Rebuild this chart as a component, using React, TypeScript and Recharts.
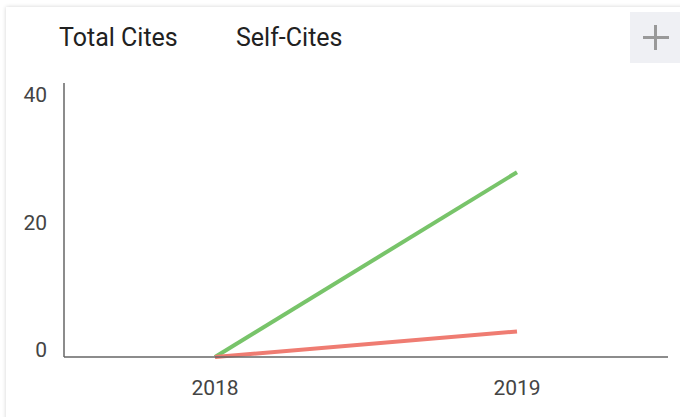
import { Line, LineChart, XAxis, YAxis } from 'recharts'

const years = ['2018', '2019']
const totalCites = [0, 29]
const selfCites = [0, 4]
const seriesNames = ['Total Cites', 'Self-Cites']
const seriesColors = ['#78c46a', '#ef7c72']
const yTicks = [0, 20, 40]

const data = years.map((year, i) => ({
  year,
  total: totalCites[i],
  self: selfCites[i],
}))

const font = 'Roboto, "Noto Sans", sans-serif'

function XTick({ x, y, payload }: any) {
  return (
    <text x={x} y={y} dy={38} textAnchor="middle" fill="#444" fontSize={21} fontFamily={font}>
      {payload.value}
    </text>
  )
}

function YTick({ x, y, payload }: any) {
  return (
    <text x={x - 17} y={y} dy={0} textAnchor="end" fill="#444" fontSize={21} fontFamily={font}>
      {payload.value}
    </text>
  )
}

export default function App() {
  return (
    <div style={{ position: 'relative', width: 680, height: 417, overflow: 'hidden', background: '#fff' }}>
      <style>{'body{margin:0}'}</style>
      <div
        style={{
          position: 'absolute',
          left: 6,
          top: 7,
          width: 720,
          height: 440,
          background: '#fff',
          boxShadow: '0 0 4px rgba(0,0,0,0.18)',
        }}
      />
      <div style={{ position: 'absolute', left: 630, top: 12, width: 50, height: 51, background: '#eff0f4' }}>
        <div style={{ position: 'absolute', left: 13, top: 24, width: 26, height: 3, background: '#999' }} />
        <div style={{ position: 'absolute', left: 24, top: 13, width: 3, height: 25, background: '#999' }} />
      </div>
      {seriesNames.map((name, i) => (
        <span
          key={name}
          style={{
            position: 'absolute',
            left: i === 0 ? 59 : 236,
            top: 25,
            fontFamily: font,
            fontSize: 25,
            lineHeight: '25px',
            color: '#212121',
            whiteSpace: 'nowrap',
          }}
        >
          {name}
        </span>
      ))}
      <div style={{ position: 'absolute', left: 0, top: 0 }}>
        <LineChart width={680} height={417} data={data} margin={{ top: 83, right: 12, bottom: 0, left: 0 }}>
          <XAxis
            dataKey="year"
            height={60}
            padding={{ left: 151, right: 151 }}
            tick={<XTick />}
            tickLine={false}
            tickSize={0}
            tickMargin={0}
            stroke="#666"
            strokeWidth={1.5}
            interval={0}
          />
          <YAxis
            domain={[0, 43]}
            ticks={yTicks}
            width={64}
            tick={<YTick />}
            tickLine={false}
            tickSize={0}
            tickMargin={0}
            stroke="#666"
            strokeWidth={1.5}
            interval={0}
          />
          <Line
            dataKey="total"
            name={seriesNames[0]}
            stroke={seriesColors[0]}
            strokeWidth={4}
            dot={false}
            isAnimationActive={false}
          />
          <Line
            dataKey="self"
            name={seriesNames[1]}
            stroke={seriesColors[1]}
            strokeWidth={4}
            dot={false}
            isAnimationActive={false}
          />
        </LineChart>
      </div>
    </div>
  )
}
